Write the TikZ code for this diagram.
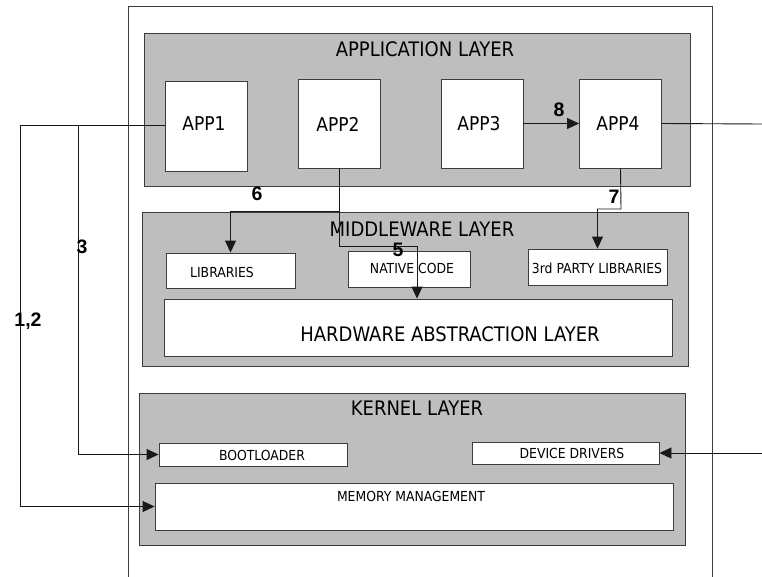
\documentclass[tikz,border=0pt]{standalone}
\usepackage{fontspec}
\usetikzlibrary{arrows.meta}
\newfontfamily\labfont{DejaVu Sans Condensed}
\newfontfamily\numfont{Liberation Sans}
\definecolor{layergray}{RGB}{190,190,190}
\definecolor{edgegray}{RGB}{60,60,60}
\begin{document}
\begin{tikzpicture}[x=1pt,y=-1pt,
  layer/.style={draw=edgegray,line width=1pt,fill=layergray,inner sep=0pt},
  wbox/.style={draw=edgegray,line width=0.9pt,fill=white,inner sep=0pt},
  title/.style={font=\labfont\fontsize{20}{20}\selectfont,inner sep=0pt},
  apptext/.style={font=\labfont\fontsize{19}{19}\selectfont,inner sep=0pt},
  small/.style={font=\labfont\fontsize{13.8}{14}\selectfont,inner sep=0pt},
  num/.style={font=\numfont\bfseries\fontsize{19.5}{20}\selectfont,inner sep=0pt},
  wire/.style={draw=black!90,line width=0.9pt},
  arr/.style={wire,-{Triangle[length=12pt,width=11pt]}}]
\useasboundingbox (0,0) rectangle (762,577);
\fill[white] (0,0) rectangle (762,577);

% outer frame (open at the bottom)
\draw[draw=edgegray,line width=0.9pt] (128,577) -- (128,6) -- (712,6) -- (712,577);

% layers
\node[layer,minimum width=546,minimum height=153] (applayer) at (417,110.5) {};
\node[layer,minimum width=546,minimum height=153] (midlayer) at (415,289.5) {};
\node[layer,minimum width=546,minimum height=152] (kernlayer) at (412,469) {};
\node[title] (apptitle) at (425,49) {APPLICATION LAYER};
\node[title] (midtitle) at (422,229.5) {MIDDLEWARE LAYER};
\node[title] (kerntitle) at (417,408) {KERNEL LAYER};

% application boxes
\node[wbox,minimum width=82,minimum height=90] (app1) at (206,126) {};
\node[wbox,minimum width=82,minimum height=89] (app2) at (339,123.5) {};
\node[wbox,minimum width=82,minimum height=89] (app3) at (482,123.5) {};
\node[wbox,minimum width=82,minimum height=89] (app4) at (620.5,123.5) {};
\node[apptext] (t1) at (204,124) {APP1};
\node[apptext] (t2) at (338,124) {APP2};
\node[apptext] (t3) at (479,124) {APP3};
\node[apptext] (t4) at (618,124) {APP4};

% middleware boxes
\node[wbox,minimum width=129,minimum height=35] (libs) at (230.5,270.5) {};
\node[wbox,minimum width=122,minimum height=36] (native) at (409,269) {};
\node[wbox,minimum width=139,minimum height=36] (third) at (597.5,267) {};
\node[wbox,minimum width=508,minimum height=57] (hal) at (418,327.5) {};
\node[small] (tl) at (222,272) {LIBRARIES};
\node[small] (tn) at (412,268) {NATIVE CODE};
\node[small] (tp) at (597,268) {3rd PARTY LIBRARIES};
\node[title] (th) at (450,334) {HARDWARE ABSTRACTION LAYER};

% kernel boxes
\node[wbox,minimum width=188,minimum height=23] (boot) at (253,454.5) {};
\node[wbox,minimum width=187,minimum height=22] (dd) at (565.5,453) {};
\node[wbox,minimum width=518,minimum height=47] (mem) at (414,506.5) {};
\node[small] (tb) at (262,455) {BOOTLOADER};
\node[small] (td) at (572,453) {DEVICE DRIVERS};
\node[small] (tm) at (411,496) {MEMORY MANAGEMENT};

% junction and bend points
\coordinate (j12) at (20,125);
\coordinate (j3) at (78,125);
\coordinate (k6) at (339,211);
\coordinate (k5) at (339,246);
\coordinate (k5b) at (417,246);
\coordinate (k7) at (621,209);
\coordinate (eout) at (762,124);
\coordinate (ein) at (762,453);

% connectors
\draw[wire] (app1.west |- j12) -- (j12);
\draw[arr] (j12) |- (mem.west);
\draw[arr] (j3) |- (boot.west);
\draw[arr] (app3.east) -- (app4.west);
\draw[wire] (app4.east) -- (eout);
\draw[arr] (ein) -- (dd.east);
\draw[arr] (app2.south) -- (k6) -| (libs.north);
\draw[arr] (k6) -- (k5) -- (k5b) -- (k5b |- hal.north);
\draw[arr] (app4.south) -- (k7) -| (third.north);

% step numbers
\node[num] (n8) at (559,110) {8};
\node[num] (n6) at (257,194) {6};
\node[num] (n7) at (614,197) {7};
\node[num] (n5) at (398,250) {5};
\node[num] (n3) at (82,247) {3};
\node[num] (n12) at (28,321) {1,2};
\end{tikzpicture}
\end{document}
